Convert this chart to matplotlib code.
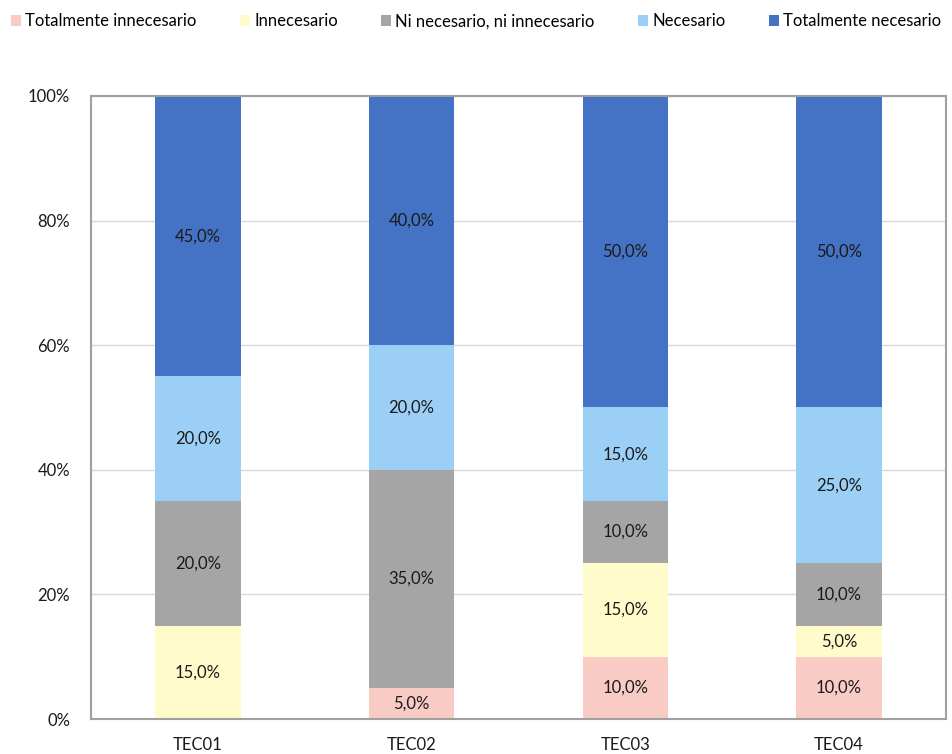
import numpy as np
import matplotlib.pyplot as plt
from matplotlib.ticker import PercentFormatter

plt.rcParams['font.family'] = ['Lato', 'DejaVu Sans']

categories = ['TEC01', 'TEC02', 'TEC03', 'TEC04']
series = ['Totalmente innecesario', 'Innecesario', 'Ni necesario, ni innecesario',
          'Necesario', 'Totalmente necesario']
values = [
    [0, 5, 10, 10],
    [15, 0, 15, 5],
    [20, 35, 10, 10],
    [20, 20, 15, 25],
    [45, 40, 50, 50],
]
colors = ['#F8CBC5', '#FFFBCB', '#A5A5A5', '#9BCFF5', '#4472C4']

fig = plt.figure(figsize=(9.52, 7.54), dpi=100)
ax = fig.add_axes([0.0956, 0.0464, 0.898, 0.8263])

x = np.arange(len(categories))
bottom = np.zeros(len(categories))
handles = []
for name, vals, c in zip(series, values, colors):
    vals = np.array(vals, dtype=float)
    b = ax.bar(x, vals, 0.4, bottom=bottom, color=c, label=name, zorder=2)
    handles.append(b)
    for xi, v, bt in zip(x, vals, bottom):
        if v > 0:
            ax.text(xi, bt + v / 2, f'{v:.1f}%'.replace('.', ','), ha='center', va='center',
                    fontsize=12, color='#1a1a1a', zorder=3)
    bottom += vals

ax.set_xlim(-0.5, 3.5)
ax.set_ylim(0, 100)
ax.set_yticks(np.arange(0, 101, 20))
ax.yaxis.set_major_formatter(PercentFormatter(decimals=0))
ax.set_xticks(x)
ax.set_xticklabels(categories)
ax.tick_params(length=0, labelsize=12, colors='#1a1a1a')
ax.tick_params(axis='y', pad=15)
ax.tick_params(axis='x', pad=13)
ax.grid(axis='y', color='#D9D9D9', linewidth=1, zorder=0)
for s in ax.spines.values():
    s.set_color('#A0A0A0')
    s.set_linewidth(1.5)

fig.legend(handles=handles, loc='upper center', bbox_to_anchor=(0.5, 1.0), ncol=5,
           frameon=False, fontsize=12, handlelength=0.6, handleheight=0.6,
           handletextpad=0.25, columnspacing=2.6, borderaxespad=0.4)

fig.savefig('out.png', dpi=100)
